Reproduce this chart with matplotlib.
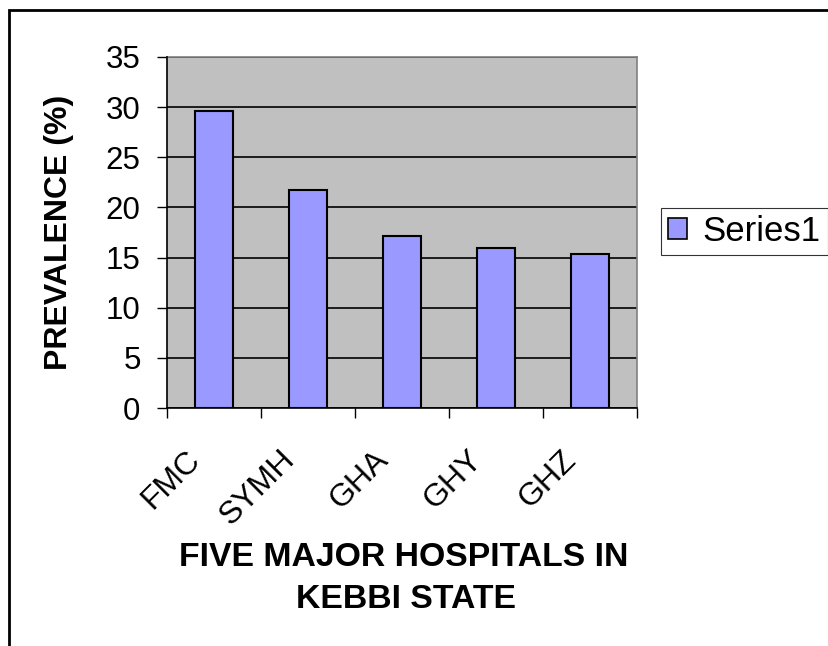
import matplotlib
matplotlib.use("Agg")
import matplotlib.pyplot as plt
from matplotlib.patches import Rectangle, Patch
import numpy as np

plt.rcParams['font.family'] = ['Liberation Sans', 'DejaVu Sans']

categories = ["FMC", "SYMH", "GHA", "GHY", "GHZ"]
values = [29.6, 21.7, 17.2, 16.0, 15.4]
yticks = [0, 5, 10, 15, 20, 25, 30, 35]
series_name = "Series1"

W, H = 829, 646
fig = plt.figure(figsize=(W / 100, H / 100), dpi=100)
fig.patch.set_facecolor("white")

# outer chart border (right/bottom cut off by image edge)
fig.patches.append(Rectangle((9 / W, -0.05), 1.1, 1 - 10 / H + 0.05,
                             transform=fig.transFigure, fill=False,
                             edgecolor="black", linewidth=2))

left, right, top, bottom = 167, 637, 57, 408
ax = fig.add_axes([left / W, 1 - bottom / H, (right - left) / W, (bottom - top) / H])
ax.set_facecolor("#C0C0C0")

x = np.arange(len(categories))
ax.bar(x, values, width=0.41, color="#9999FF", edgecolor="black", linewidth=1.5, zorder=3)

ax.set_xlim(-0.5, len(categories) - 0.5)
ax.set_ylim(0, 35)
ax.set_yticks(yticks)
ax.set_yticklabels([str(v) for v in yticks], fontsize=22.5)
ax.yaxis.grid(True, color="black", linewidth=1.2, zorder=1)
ax.set_axisbelow(True)

ax.set_xticks(np.arange(len(categories) + 1) - 0.5)
ax.set_xticklabels([])
ax.tick_params(axis="x", length=7, width=1, color="black", direction="out")
ax.tick_params(axis="y", length=7, width=1, color="black", direction="out", pad=12)

for s in ["top", "right"]:
    ax.spines[s].set_color("#808080")
    ax.spines[s].set_linewidth(1.2)
for s in ["left", "bottom"]:
    ax.spines[s].set_color("black")
    ax.spines[s].set_linewidth(1.2)
    ax.spines[s].set_zorder(4)

for i, c in enumerate(categories):
    ax.annotate(c, xy=(i, 0), xycoords=("data", "axes fraction"),
                xytext=(-13, -34), textcoords="offset points",
                rotation=45, rotation_mode="anchor", ha="right", va="center",
                fontsize=23)

fig.text(404 / W, 1 - 558 / H, "FIVE MAJOR HOSPITALS IN", ha="center", va="center",
         fontsize=24.3, fontweight="bold")
fig.text(406 / W, 1 - 600 / H, "KEBBI STATE", ha="center", va="center",
         fontsize=24.3, fontweight="bold")
fig.text(59 / W, 1 - 232 / H, "PREVALENCE (%)", ha="center", va="center",
         rotation=90, fontsize=23, fontweight="bold")

handle = Patch(facecolor="#9999FF", edgecolor="black", linewidth=1.2)
leg = fig.legend([handle], [series_name], loc="upper left",
                 bbox_to_anchor=(661 / W, 1 - 208 / H), bbox_transform=fig.transFigure,
                 borderaxespad=0, fontsize=25, frameon=True, fancybox=False,
                 handlelength=0.55, handleheight=0.55, handletextpad=0.45,
                 borderpad=0.2)
leg.get_frame().set_edgecolor("black")
leg.get_frame().set_linewidth(0.8)

fig.savefig("out.png", dpi=100, facecolor="white")
